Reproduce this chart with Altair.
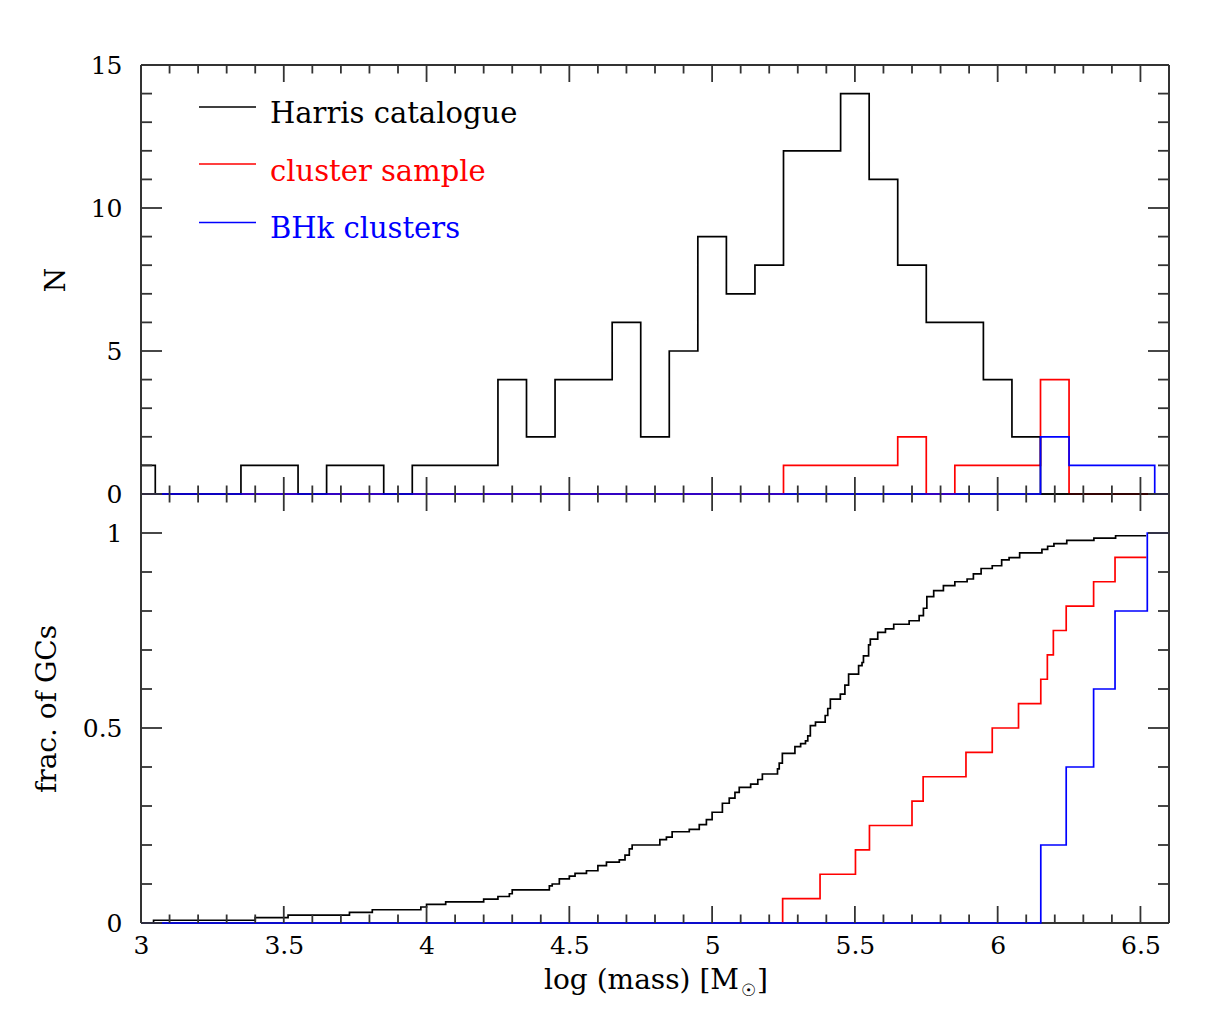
import altair as alt
import pandas as pd

X_MIN, X_MAX = 3.0, 6.6
BIN_W = 0.1
W, H = 1028, 429

# ---------------- top panel: histograms (bin centres, counts) ----------------
bin_centres = [3.0, 3.1, 3.2, 3.3, 3.4, 3.5, 3.6, 3.7, 3.8, 3.9,
               4.0, 4.1, 4.2, 4.3, 4.4, 4.5, 4.6, 4.7, 4.8, 4.9,
               5.0, 5.1, 5.2, 5.3, 5.4, 5.5, 5.6, 5.7, 5.8, 5.9,
               6.0, 6.1, 6.2, 6.3, 6.4, 6.5]
harris_counts = [1, 0, 0, 0, 1, 1, 0, 1, 1, 0,
                 1, 1, 1, 4, 2, 4, 4, 6, 2, 5,
                 9, 7, 8, 12, 12, 14, 11, 8, 6, 6,
                 4, 2, 0, 0, 0, 0]
sample_counts = [0, 0, 0, 0, 0, 0, 0, 0, 0, 0,
                 0, 0, 0, 0, 0, 0, 0, 0, 0, 0,
                 0, 0, 0, 1, 1, 1, 1, 2, 0, 1,
                 1, 1, 4, 0, 0, 0]
bhk_counts = [0, 0, 0, 0, 0, 0, 0, 0, 0, 0,
              0, 0, 0, 0, 0, 0, 0, 0, 0, 0,
              0, 0, 0, 0, 0, 0, 0, 0, 0, 0,
              0, 0, 2, 1, 1, 1]

# ---------------- bottom panel: cumulative fractions (step points) ----------------
harris_cum_x = [3.044, 3.044, 3.40, 3.515, 3.73, 3.81, 3.98, 4.0, 4.067, 4.20,
                4.25, 4.29, 4.30, 4.43, 4.44, 4.465, 4.50, 4.52, 4.56, 4.60,
                4.63, 4.675, 4.695, 4.71, 4.72, 4.817, 4.84, 4.86, 4.92, 4.955,
                4.98, 5.0, 5.036, 5.06, 5.08, 5.095, 5.135, 5.16, 5.176, 5.229,
                5.235, 5.246, 5.29, 5.31, 5.327, 5.335, 5.344, 5.362, 5.396, 5.405,
                5.414, 5.449, 5.465, 5.478, 5.513, 5.525, 5.53, 5.548, 5.554, 5.58,
                5.607, 5.636, 5.69, 5.725, 5.74, 5.752, 5.776, 5.81, 5.85, 5.893,
                5.915, 5.942, 5.981, 6.014, 6.04, 6.077, 6.155, 6.175, 6.197, 6.242,
                6.337, 6.413, 6.52]
harris_cum_y = [0.0, 0.007, 0.014, 0.020, 0.027, 0.034, 0.041, 0.048, 0.054, 0.061,
                0.068, 0.075, 0.085, 0.095, 0.10, 0.113, 0.12, 0.127, 0.134, 0.147,
                0.156, 0.162, 0.174, 0.19, 0.20, 0.214, 0.22, 0.234, 0.24, 0.252,
                0.265, 0.284, 0.307, 0.32, 0.335, 0.348, 0.356, 0.368, 0.382, 0.395,
                0.41, 0.435, 0.452, 0.46, 0.467, 0.48, 0.506, 0.515, 0.532, 0.55,
                0.574, 0.587, 0.61, 0.638, 0.66, 0.668, 0.685, 0.713, 0.728, 0.745,
                0.754, 0.766, 0.775, 0.788, 0.807, 0.837, 0.852, 0.865, 0.875, 0.882,
                0.895, 0.909, 0.916, 0.931, 0.937, 0.949, 0.958, 0.966, 0.973, 0.981,
                0.987, 0.993, 0.993]
sample_cum_x = [5.247, 5.247, 5.378, 5.502, 5.551, 5.70, 5.739, 5.889, 5.981, 6.073,
                6.151, 6.174, 6.195, 6.240, 6.336, 6.411, 6.521]
sample_cum_y = [0.0, 0.0625, 0.125, 0.1875, 0.25, 0.3125, 0.375, 0.4375, 0.5, 0.5625,
                0.625, 0.6875, 0.75, 0.8125, 0.875, 0.9375, 0.9375]
bhk_cum_x = [3.0, 6.151, 6.24, 6.336, 6.411, 6.524, 6.6]
bhk_cum_y = [0.0, 0.2, 0.4, 0.6, 0.8, 1.0, 1.0]

# ---------------- ticks ----------------
x_major = [3.0, 3.5, 4.0, 4.5, 5.0, 5.5, 6.0, 6.5]
x_minor = [3.1, 3.2, 3.3, 3.4, 3.6, 3.7, 3.8, 3.9, 4.1, 4.2, 4.3, 4.4,
           4.6, 4.7, 4.8, 4.9, 5.1, 5.2, 5.3, 5.4, 5.6, 5.7, 5.8, 5.9,
           6.1, 6.2, 6.3, 6.4]
n_major = [0, 5, 10, 15]
n_minor = [1, 2, 3, 4, 6, 7, 8, 9, 11, 12, 13, 14]
f_major = [0, 0.5, 1]
f_minor = [0.1, 0.2, 0.3, 0.4, 0.6, 0.7, 0.8, 0.9]

legend_labels = ["Harris catalogue", "cluster sample", "BHk clusters"]
colors = ["#000000", "#ff0000", "#0000ff"]
x_title_parts = ["log (mass) [M", "☉", "]"]

FONT = "DejaVu Serif"
AXC = "#333333"

xscale = alt.Scale(domain=[X_MIN, X_MAX], nice=False, zero=False)
yscale_top = alt.Scale(domain=[0, 15], nice=False, zero=False)
yscale_bot = alt.Scale(domain=[0, 1.1], nice=False, zero=False)

axis_top_x = alt.Axis(values=x_major, labels=False, title=None)
axis_top_y = alt.Axis(values=n_major, labelExpr="'' + datum.value", title="N",
                      titleX=-85, titleY=H / 2, titleAngle=270,
                      titleBaseline="middle", titleAlign="center", labelPadding=19,
                      labelFlush=False)
axis_bot_y = alt.Axis(values=f_major, labelExpr="'' + datum.value", title="frac. of GCs",
                      titleX=-94, titleY=H / 2, titleAngle=270,
                      titleBaseline="middle", titleAlign="center", labelPadding=19,
                      labelFlush=False)
axis_bot_x = alt.Axis(values=x_major, labelExpr="'' + datum.value",
                      title=None, labelPadding=10, labelFlush=False)


def hist_points(counts):
    xs, ys = [], []
    for c, n in zip(bin_centres, counts):
        xs.append(max(round(c - BIN_W / 2, 3), X_MIN))
        ys.append(n)
    xs += [round(bin_centres[-1] + BIN_W / 2, 3), X_MAX]
    ys += [0, 0]
    return xs, ys


def step_layer(xs, ys, color, yscale, xaxis=alt.Undefined, yaxis=alt.Undefined, width=1.7):
    assert len(xs) == len(ys)
    df = pd.DataFrame({"x": xs, "y": ys, "i": list(range(len(xs)))})
    return alt.Chart(df).mark_line(
        interpolate="step-after", color=color, strokeWidth=width
    ).encode(
        x=alt.X("x:Q", scale=xscale, axis=xaxis),
        y=alt.Y("y:Q", scale=yscale, axis=yaxis),
        order=alt.Order("i:Q"),
    )


def frame_layers(with_top=True):
    d = pd.DataFrame({"k": [0]})
    base = alt.Chart(d).mark_rule(color=AXC, strokeWidth=2)
    layers = [
        base.encode(x=alt.value(0), x2=alt.value(W), y=alt.value(H)),
        base.encode(y=alt.value(0), y2=alt.value(H), x=alt.value(0)),
        base.encode(y=alt.value(0), y2=alt.value(H), x=alt.value(W)),
    ]
    if with_top:
        layers.append(base.encode(x=alt.value(0), x2=alt.value(W), y=alt.value(0)))
    return layers


def tick_layers(yscale, y_major, y_minor):
    layers = []
    for vals, ln in ((x_major, 17), (x_minor, 8.5)):
        df = pd.DataFrame({"v": vals})
        base = alt.Chart(df).mark_rule(color=AXC, strokeWidth=1.8)
        layers.append(base.encode(x=alt.X("v:Q", scale=xscale),
                                  y=alt.value(0), y2=alt.value(ln)))
        layers.append(base.encode(x=alt.X("v:Q", scale=xscale),
                                  y=alt.value(H - ln), y2=alt.value(H)))
    for vals, ln in ((y_major, 21), (y_minor, 11)):
        df = pd.DataFrame({"v": vals})
        base = alt.Chart(df).mark_rule(color=AXC, strokeWidth=1.8)
        layers.append(base.encode(y=alt.Y("v:Q", scale=yscale),
                                  x=alt.value(0), x2=alt.value(ln)))
        layers.append(base.encode(y=alt.Y("v:Q", scale=yscale),
                                  x=alt.value(W - ln), x2=alt.value(W)))
    return layers


# ---------------- top panel (drawn red, then black, then blue) ----------------
top_layers = frame_layers(with_top=True)
sx, sy = hist_points(sample_counts)
top_layers.append(step_layer(sx, sy, colors[1], yscale_top))
hx, hy = hist_points(harris_counts)
top_layers.append(step_layer(hx, hy, colors[0], yscale_top, xaxis=axis_top_x, yaxis=axis_top_y))
bx, by = hist_points(bhk_counts)
top_layers.append(step_layer(bx, by, colors[2], yscale_top))
top_layers += tick_layers(yscale_top, n_major, n_minor)

leg_line_y = [42, 99, 157.5]
leg_text_y = [58, 116, 173]
for lab, col, ly, ty in zip(legend_labels, colors, leg_line_y, leg_text_y):
    d = pd.DataFrame({"label": [lab]})
    top_layers.append(alt.Chart(d).mark_rule(color=col, strokeWidth=1.5).encode(
        x=alt.value(58), x2=alt.value(115), y=alt.value(ly)))
    top_layers.append(alt.Chart(d).mark_text(
        align="left", baseline="alphabetic", font=FONT, fontSize=29, color=col
    ).encode(x=alt.value(129), y=alt.value(ty), text="label:N"))

top = alt.layer(*top_layers).properties(width=W, height=H)

# ---------------- bottom panel ----------------
bot_layers = frame_layers(with_top=False)
for k, ((cx, cy), col) in enumerate(zip([(harris_cum_x, harris_cum_y),
                                         (sample_cum_x, sample_cum_y),
                                         (bhk_cum_x, bhk_cum_y)], colors)):
    if k == 0:
        bot_layers.append(step_layer(cx, cy, col, yscale_bot, xaxis=axis_bot_x, yaxis=axis_bot_y))
    else:
        bot_layers.append(step_layer(cx, cy, col, yscale_bot))
bot_layers += tick_layers(yscale_bot, f_major, f_minor)

# x-axis title with a subscript sun symbol
title_specs = [
    (x_title_parts[0], "right", 598, H + 66, 28),
    (x_title_parts[1], "left", 600, H + 73, 17),
    (x_title_parts[2], "left", 616, H + 66, 28),
]
for txt, al, tx, ty, fs in title_specs:
    d = pd.DataFrame({"t": [txt]})
    bot_layers.append(alt.Chart(d).mark_text(
        align=al, baseline="alphabetic", font=FONT, fontSize=fs, color="black"
    ).encode(x=alt.value(tx), y=alt.value(ty), text="t:N"))

bottom = alt.layer(*bot_layers).properties(width=W, height=H)

chart = alt.vconcat(top, bottom, spacing=0, bounds="flush").properties(
    padding={"left": 25, "top": 45, "right": 20, "bottom": 20},
    background="white",
).configure_view(
    stroke="transparent", strokeWidth=0
).configure_axis(
    grid=False, domain=False, ticks=False,
    labelFont=FONT, labelFontSize=25, labelColor="black",
    titleFont=FONT, titleFontSize=28, titleFontWeight="normal", titleColor="black",
)

chart.save("out.html", embed_options={"renderer": "svg", "actions": False})
